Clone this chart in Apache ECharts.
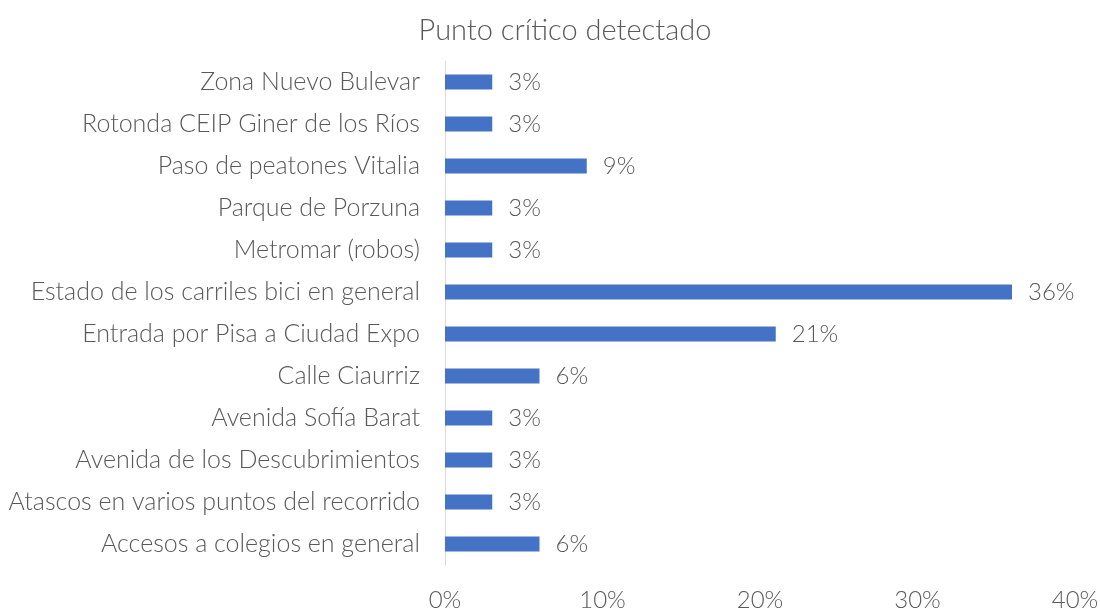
<!DOCTYPE html>
<html>
<head>
<meta charset="utf-8">
<script src="https://cdn.jsdelivr.net/npm/echarts@6/dist/echarts.min.js"></script>
<style>
  html, body { margin: 0; padding: 0; background: #ffffff; }
  #chart { width: 1100px; height: 609px; }
</style>
</head>
<body>
<div id="chart"></div>
<script>
// Categories listed bottom to top (category axis starts at the bottom)
const categories = [
  'Accesos a colegios en general',
  'Atascos en varios puntos del recorrido',
  'Avenida de los Descubrimientos',
  'Avenida Sofía Barat',
  'Calle Ciaurriz',
  'Entrada por Pisa a Ciudad Expo',
  'Estado de los carriles bici en general',
  'Metromar (robos)',
  'Parque de Porzuna',
  'Paso de peatones Vitalia',
  'Rotonda CEIP Giner de los Ríos',
  'Zona Nuevo Bulevar'
];
// Share of responses, in percent
const values = [6, 3, 3, 3, 6, 21, 36, 3, 3, 9, 3, 3];
const axisTicks = [0, 10, 20, 30, 40];

const FONT = 'Lato, "Open Sans", sans-serif';
const TEXT = '#595959';

const chart = echarts.init(document.getElementById('chart'));
chart.setOption({
  animation: false,
  title: {
    text: 'Punto crítico detectado',
    left: 560,
    top: 11,
    textAlign: 'center',
    textStyle: { fontFamily: FONT, fontSize: 29, fontWeight: 300, color: TEXT }
  },
  grid: {
    left: 445, right: 25, top: 61, bottom: 44,
    containLabel: false,
    outerBoundsMode: 'none'
  },
  xAxis: {
    type: 'value',
    min: axisTicks[0],
    max: axisTicks[axisTicks.length - 1],
    interval: 10,
    axisLine: { show: false },
    axisTick: { show: false },
    splitLine: { show: false },
    axisLabel: {
      margin: 23,
      fontFamily: FONT, fontSize: 24, fontWeight: 300, color: TEXT,
      formatter: v => v + '%'
    }
  },
  yAxis: {
    type: 'category',
    data: categories,
    axisLine: { show: true, lineStyle: { color: '#d9d9d9', width: 1 } },
    axisTick: { show: false },
    axisLabel: { margin: 25, fontFamily: FONT, fontSize: 25, fontWeight: 300, color: TEXT }
  },
  series: [{
    type: 'bar',
    data: values,
    barWidth: 15,
    itemStyle: { color: '#4472C4' },
    label: {
      show: true,
      position: 'right',
      distance: 16,
      fontFamily: FONT, fontSize: 24, fontWeight: 300, color: TEXT,
      formatter: p => p.value + '%'
    }
  }]
});
</script>
</body>
</html>
